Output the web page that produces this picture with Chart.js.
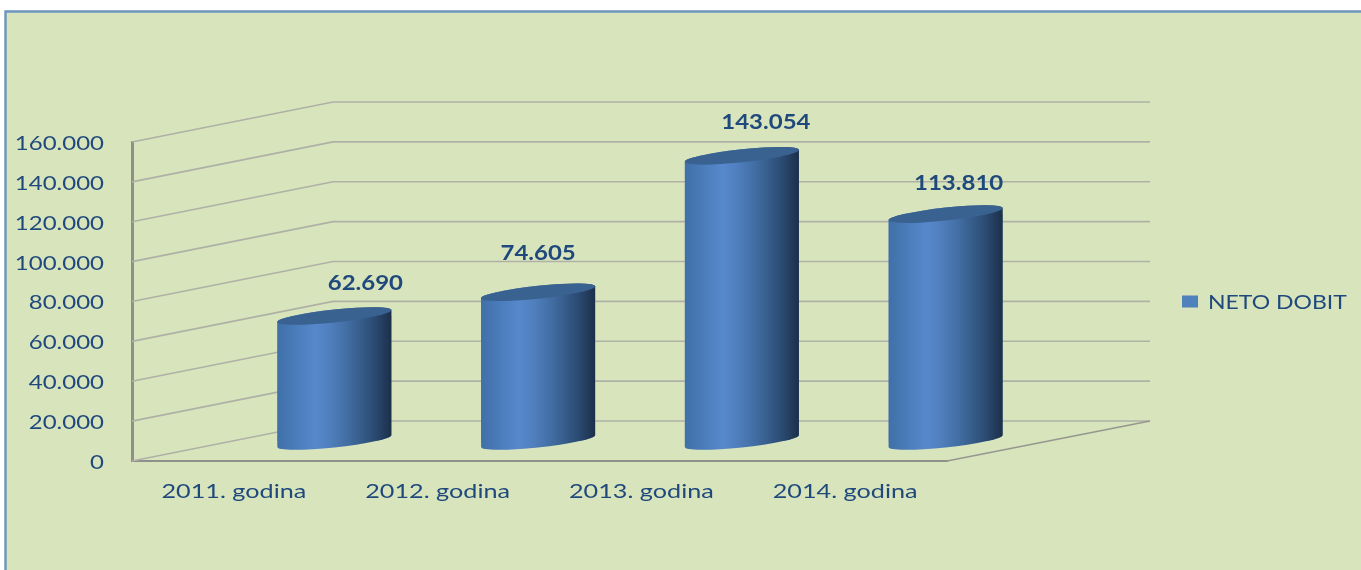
<!DOCTYPE html>
<html>
<head>
<meta charset="utf-8">
<style>html,body{margin:0;padding:0;background:#fff}canvas{display:block}</style>
<script src="https://cdn.jsdelivr.net/npm/chart.js@4"></script>
</head>
<body>
<canvas id="c" width="1361" height="570"></canvas>
<script>
const categories = ['2011. godina', '2012. godina', '2013. godina', '2014. godina'];
const netoDobit = [62690, 74605, 143054, 113810];
const seriesName = 'NETO DOBIT';
const labelNudgeX = [31, 0, 24, 13];
const labelNudgeY = [-34, -40, -34.5, -32];

const TEXT = '#1F497D';
const FONT = 'Lato';
const TEXT_STRETCH = { value: 1.2, category: 1.26, legend: 1.15 };
const TEXT_DROP = 1.5;
const WALL = { dx: 201, dy: -40 };
const BAR = { dx: 100.5, dy: -20, ry: 6.5, skew: 0.105 };
const TARGET = { left: 132, right: 947, top: 142, bottom: 461 };
const fmt = v => String(v).replace(/\B(?=(\d{3})+$)/g, '.');

function arc(ctx, cx, cy, rx, ry, a, b) {
  ctx.save();
  ctx.transform(1, -BAR.skew, 0, 1, cx, cy);
  ctx.ellipse(0, 0, rx, ry, 0, a, b);
  ctx.restore();
}
function silhouette(ctx, el) {
  const r = el.width / 2;
  ctx.moveTo(el.x - r, el.y + BAR.skew * r);
  arc(ctx, el.x, el.y, r, BAR.ry, Math.PI, 2 * Math.PI);
  arc(ctx, el.x, el.base, r, BAR.ry, 0, Math.PI);
  ctx.closePath();
}
const cylinder = {
  id: 'cylinder',
  beforeDraw(chart) {
    const { ctx, width, height } = chart;
    ctx.save();
    ctx.fillStyle = '#fff';
    ctx.fillRect(0, 0, width, height);
    ctx.fillStyle = '#D8E4BC';
    ctx.fillRect(5, 11, width, height);
    ctx.strokeStyle = '#6C95BE';
    ctx.lineWidth = 2.4;
    ctx.beginPath();
    ctx.moveTo(5.5, height);
    ctx.lineTo(5.5, 11.5);
    ctx.lineTo(width, 11.5);
    ctx.stroke();
    ctx.restore();
  },
  beforeDatasetsDraw(chart) {
    const { ctx, chartArea: a } = chart;
    const y = chart.scales.y;
    ctx.save();
    ctx.strokeStyle = '#AFB1A6';
    ctx.lineWidth = 1.7;
    y.ticks.forEach(t => {
      const p = y.getPixelForValue(t.value);
      ctx.beginPath();
      ctx.moveTo(a.left, p);
      ctx.lineTo(a.left + WALL.dx, p + WALL.dy);
      ctx.lineTo(a.right + WALL.dx + 2, p + WALL.dy);
      ctx.stroke();
    });
    ctx.strokeStyle = '#96988F';
    ctx.beginPath();
    ctx.moveTo(a.right, a.bottom);
    ctx.lineTo(a.right + WALL.dx + 2, a.bottom + WALL.dy);
    ctx.stroke();
    ctx.restore();
  },
  beforeDatasetDraw(chart, args) {
    const { ctx } = chart;
    ctx.save();
    ctx.translate(BAR.dx, BAR.dy);
    ctx.beginPath();
    args.meta.data.forEach(el => silhouette(ctx, el));
    ctx.clip();
  },
  afterDatasetDraw(chart, args) {
    const { ctx } = chart;
    ctx.restore();
    ctx.save();
    ctx.translate(BAR.dx, BAR.dy);
    args.meta.data.forEach(el => {
      const r = el.width / 2;
      const g = ctx.createLinearGradient(el.x - r, 0, el.x + r, 0);
      g.addColorStop(0, '#4070A8');
      g.addColorStop(0.33, '#5688CC');
      g.addColorStop(0.45, '#5180BF');
      g.addColorStop(0.62, '#416DA2');
      g.addColorStop(0.85, '#2B4B72');
      g.addColorStop(1, '#1C2F49');
      ctx.fillStyle = g;
      ctx.beginPath();
      silhouette(ctx, el);
      ctx.fill();
      ctx.fillStyle = '#3A6291';
      ctx.beginPath();
      arc(ctx, el.x, el.y, r, BAR.ry, 0, 2 * Math.PI);
      ctx.fill();
    });
    ctx.restore();
  },
  afterDatasetsDraw(chart) {
    const { ctx } = chart;
    const meta = chart.getDatasetMeta(0);
    ctx.save();
    ctx.fillStyle = TEXT;
    ctx.font = 'bold 20px ' + FONT;
    ctx.textAlign = 'center';
    ctx.textBaseline = 'middle';
    meta.data.forEach((el, i) => {
      ctx.fillText(fmt(netoDobit[i]), el.x + BAR.dx + labelNudgeX[i], el.y + BAR.dy + labelNudgeY[i]);
    });
    ctx.restore();
  },
  afterLayout(chart) {
    const lg = chart.legend;
    if (lg) {
      lg.left = 1182 - lg.options.labels.padding;
      lg.right = chart.width;
      lg.width = lg.right - lg.left;
      lg.top = chart.chartArea.top;
      lg.bottom = chart.chartArea.bottom;
      lg.height = lg.bottom - lg.top;
    }
  }
};

const canvas = document.getElementById('c');
const rawCtx = canvas.getContext('2d');
const rawFillText = rawCtx.fillText.bind(rawCtx);
rawCtx.fillText = function (text, x, y) {
  const sx = text === seriesName ? TEXT_STRETCH.legend : categories.includes(text) ? TEXT_STRETCH.category : TEXT_STRETCH.value;
  rawCtx.save();
  rawCtx.translate(x, y + TEXT_DROP);
  rawCtx.scale(sx, 1);
  rawFillText(text, 0, 0);
  rawCtx.restore();
};

const chart = new Chart(canvas, {
  type: 'bar',
  data: {
    labels: categories,
    datasets: [{
      label: seriesName,
      data: netoDobit,
      backgroundColor: '#4F81BD',
      borderWidth: 0,
      barPercentage: 1,
      categoryPercentage: 0.56,
      clip: false
    }]
  },
  options: {
    responsive: false,
    animation: false,
    layout: { padding: { left: 17, right: 240, top: 142, bottom: 60 } },
    plugins: {
      tooltip: { enabled: false },
      legend: {
        position: 'right',
        labels: {
          boxWidth: 16,
          boxHeight: 12,
          padding: 10,
          color: TEXT,
          font: { family: FONT, size: 20 }
        }
      }
    },
    scales: {
      x: {
        grid: { display: false, drawTicks: false },
        border: { color: '#8F9188', width: 2 },
        ticks: { color: TEXT, padding: 17, maxRotation: 0, font: { family: FONT, size: 20 } }
      },
      y: {
        min: 0,
        max: 160000,
        grid: { display: false, drawTicks: false },
        border: { color: '#8F9188', width: 3 },
        ticks: {
          stepSize: 20000,
          color: TEXT,
          padding: 28,
          font: { family: FONT, size: 20 },
          callback: v => fmt(v)
        }
      }
    }
  },
  plugins: [cylinder]
});

for (let i = 0; i < 3; i++) {
  const a = chart.chartArea, p = chart.options.layout.padding;
  p.left += TARGET.left - a.left;
  p.right += a.right - TARGET.right;
  p.top += TARGET.top - a.top;
  p.bottom += a.bottom - TARGET.bottom;
  chart.update('none');
}
</script>
</body>
</html>
